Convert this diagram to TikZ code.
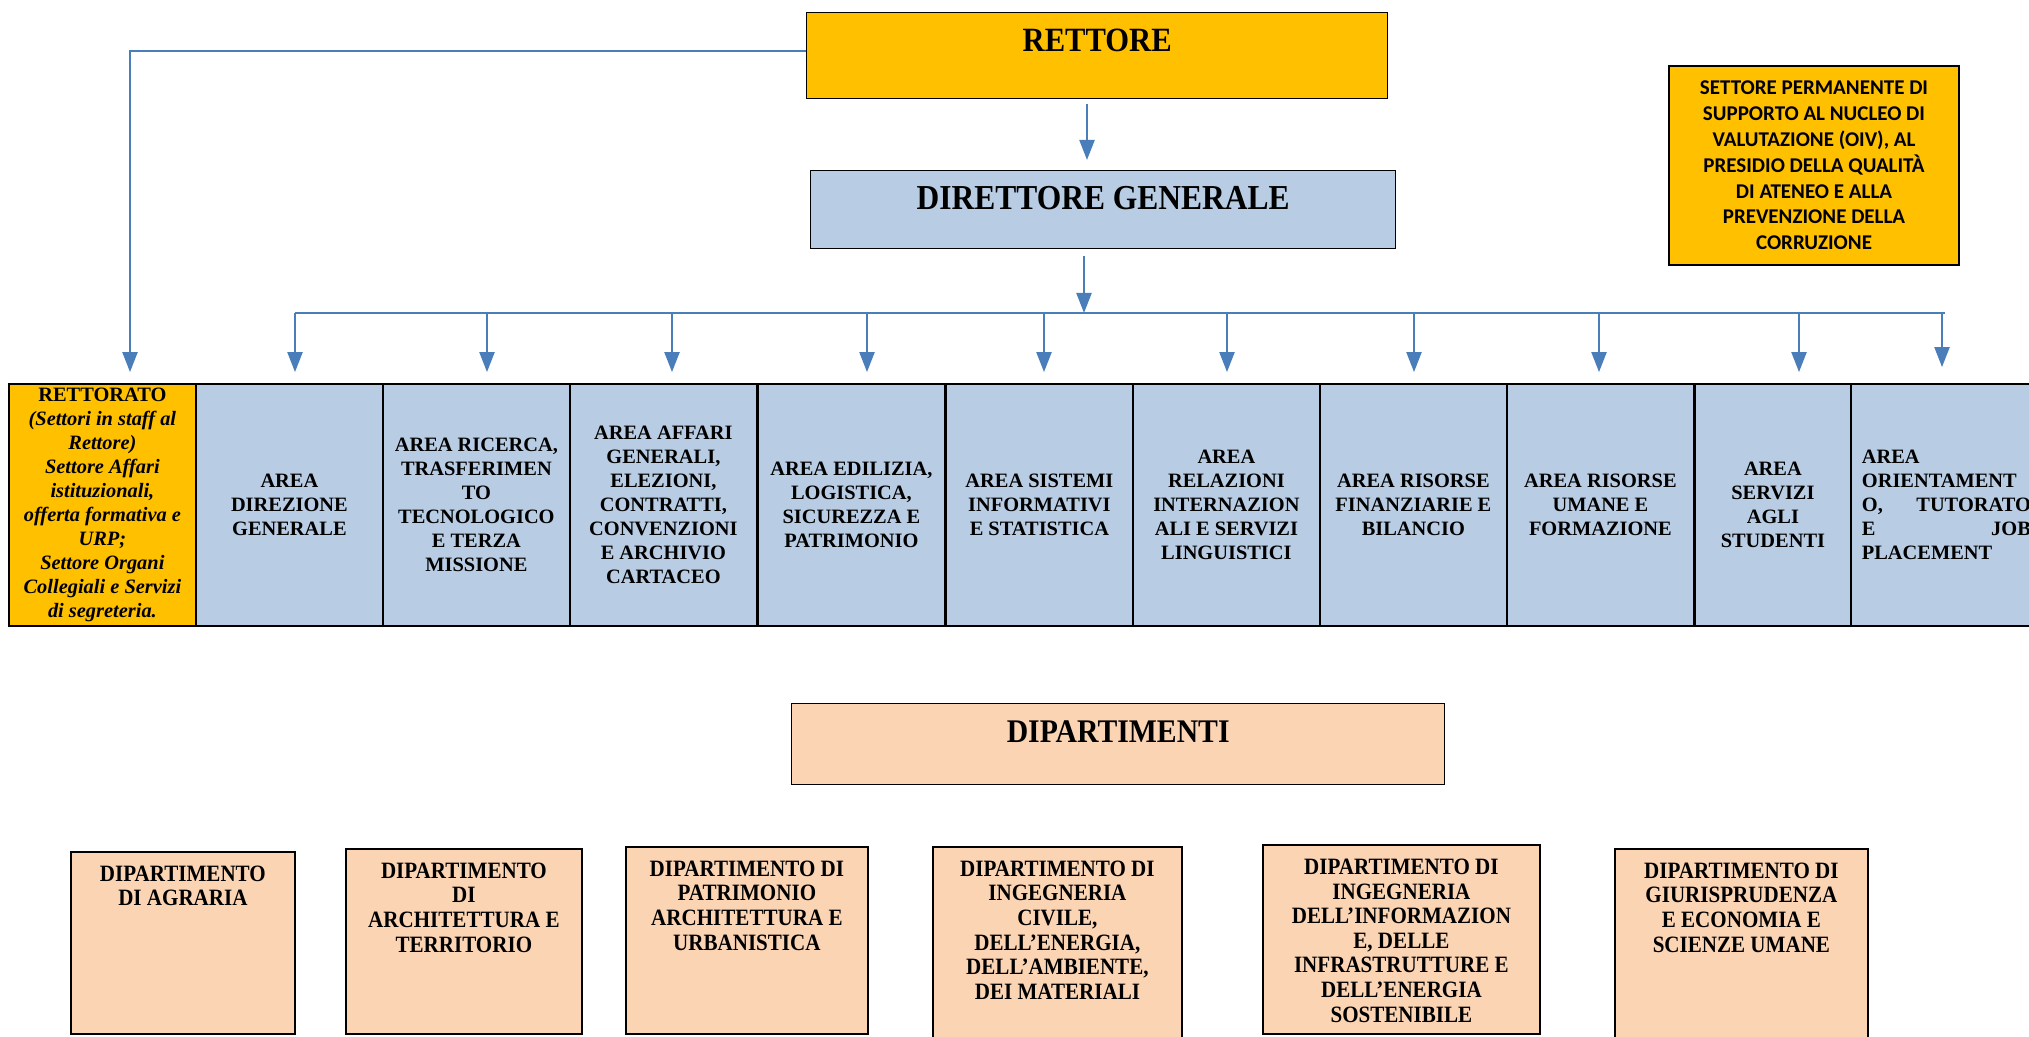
\documentclass[tikz,border=0pt]{standalone}
\usepackage{fontspec}
\setmainfont{Liberation Serif}
\newfontfamily\condfont[FakeStretch=0.9]{Liberation Serif}
\newfontfamily\calfont{Carlito}
\usetikzlibrary{arrows.meta,calc}
\definecolor{gold}{HTML}{FFC000}
\definecolor{paleblue}{HTML}{B8CCE4}
\definecolor{peach}{HTML}{FBD4B4}
\definecolor{linkblue}{HTML}{4A7EBB}
\begin{document}
\begin{tikzpicture}[x=0.5pt,y=-0.5pt,
  conn/.style={draw=linkblue, line width=1.1pt},
  arrowline/.style={conn, -{Triangle[width=7.5pt,length=10pt]}},
  topbox/.style={draw, line width=0.7pt, inner sep=0pt, anchor=north west},
  areabox/.style={draw, line width=0.9pt, fill=paleblue, minimum width=93.5pt, minimum height=121pt, inner xsep=2pt, inner ysep=0pt, anchor=west, align=center, font=\fontsize{10.2}{12}\selectfont\bfseries},
  deptbox/.style={draw, line width=0.9pt, fill=peach, inner sep=0pt, anchor=north west},
  depttext/.style={anchor=north, inner sep=0pt, align=center, font=\condfont\fontsize{11.7}{12.3}\selectfont\bfseries},
]
\useasboundingbox (0,0) rectangle (2029,1037);

% top boxes
\node[topbox, fill=gold, minimum width=290.5pt, text height=19.5pt, text depth=23.5pt,
  font=\condfont\fontsize{17}{20}\selectfont\bfseries] (rett) at (806,12) {RETTORE};
\node[topbox, fill=paleblue, minimum width=292.5pt, text height=19.5pt, text depth=19.5pt,
  font=\condfont\fontsize{17.5}{20}\selectfont\bfseries] (dg) at (810,170) {DIRETTORE GENERALE};
\node[draw, line width=0.7pt, fill=gold, minimum width=145pt, minimum height=99.5pt, inner sep=0pt, align=center,
  font=\calfont\fontsize{10.5}{12.9}\selectfont\bfseries] (settore) at (1814,165.5)
  {SETTORE PERMANENTE DI\\SUPPORTO AL NUCLEO DI\\VALUTAZIONE (OIV), AL\\PRESIDIO DELLA QUALITÀ\\DI ATENEO E ALLA\\PREVENZIONE DELLA\\CORRUZIONE};

% area row
\node[areabox, fill=gold] (rettorato) at (8,505) {RETTORATO\\\textit{(Settori in staff al}\\\textit{Rettore)}\\\textit{Settore Affari}\\\textit{istituzionali,}\\\textit{offerta formativa e}\\\textit{URP;}\\\textit{Settore Organi}\\\textit{Collegiali e Servizi}\\\textit{di segreteria.}};
\node[areabox] (dirgen) at (195,505) {AREA\\DIREZIONE\\GENERALE};
\node[areabox] (ricerca) at (382,505) {AREA RICERCA,\\TRASFERIMEN\\TO\\TECNOLOGICO\\E TERZA\\MISSIONE};
\node[areabox] (affari) at (569,505) {AREA AFFARI\\GENERALI,\\ELEZIONI,\\CONTRATTI,\\CONVENZIONI\\E ARCHIVIO\\CARTACEO};
\node[areabox] (edilizia) at (757,505) {AREA EDILIZIA,\\LOGISTICA,\\SICUREZZA E\\PATRIMONIO};
\node[areabox] (sistemi) at (945,505) {AREA SISTEMI\\INFORMATIVI\\E STATISTICA};
\node[areabox] (relazioni) at (1132,505) {AREA\\RELAZIONI\\INTERNAZION\\ALI E SERVIZI\\LINGUISTICI};
\node[areabox] (finanz) at (1319,505) {AREA RISORSE\\FINANZIARIE E\\BILANCIO};
\node[areabox] (umane) at (1506,505) {AREA RISORSE\\UMANE E\\FORMAZIONE};
\node[areabox, minimum width=78pt] (servizi) at (1694,505) {AREA\\SERVIZI\\AGLI\\STUDENTI};
\node[areabox, align=left, text width=84.5pt, inner xsep=5.5pt, minimum width=0pt] (orient) at (1850,505)
  {AREA\\\makebox[84.5pt][l]{ORIENTAMENT}\\\makebox[84.5pt]{O,\hfill TUTORATO}\\\makebox[84.5pt]{E\hfill JOB}\\PLACEMENT};

% dipartimenti
\node[topbox, fill=peach, minimum width=326.5pt, text height=19.25pt, text depth=21.25pt,
  font=\condfont\fontsize{16.5}{20}\selectfont\bfseries] (dip) at (791,703) {DIPARTIMENTI};

\node[deptbox, minimum width=112pt, minimum height=91pt] (agraria) at (70,851) {};
\node[deptbox, minimum width=118pt, minimum height=92.5pt] (archit) at (345,848) {};
\node[deptbox, minimum width=121pt, minimum height=93.5pt] (patrim) at (625,846) {};
\node[deptbox, minimum width=124.5pt, minimum height=99.5pt] (ingciv) at (932,846) {};
\node[deptbox, minimum width=138.5pt, minimum height=94.5pt] (inginfo) at (1262,844) {};
\node[deptbox, minimum width=126.5pt, minimum height=98.5pt] (giuris) at (1614,848) {};

\node[depttext] (agrariaT) at ([yshift=-7.25pt]agraria.north) {DIPARTIMENTO\\DI AGRARIA};
\node[depttext] (architT) at ([yshift=-7.25pt]archit.north) {DIPARTIMENTO\\DI\\ARCHITETTURA E\\TERRITORIO};
\node[depttext] (patrimT) at ([yshift=-7.25pt]patrim.north) {DIPARTIMENTO DI\\PATRIMONIO\\ARCHITETTURA E\\URBANISTICA};
\node[depttext] (ingcivT) at ([yshift=-7.25pt]ingciv.north) {DIPARTIMENTO DI\\INGEGNERIA\\CIVILE,\\DELL’ENERGIA,\\DELL’AMBIENTE,\\DEI MATERIALI};
\node[depttext] (inginfoT) at ([yshift=-7.25pt]inginfo.north) {DIPARTIMENTO DI\\INGEGNERIA\\DELL’INFORMAZION\\E, DELLE\\INFRASTRUTTURE E\\DELL’ENERGIA\\SOSTENIBILE};
\node[depttext] (giurisT) at ([yshift=-7.25pt]giuris.north) {DIPARTIMENTO DI\\GIURISPRUDENZA\\E ECONOMIA E\\SCIENZE UMANE};

% connectors
\coordinate (ax1) at (1087,0);
\coordinate (ax2) at (1084,0);
\coordinate (busL) at (295,313);
\coordinate (busR) at (1945,313);
\draw[arrowline, shorten >=5.5pt] ([yshift=2.5pt]rett.west) -| (rettorato.north -| 130,0);
\draw[arrowline, shorten <=2.5pt, shorten >=5pt] (rett.south -| ax1) -- (dg.north -| ax1);
\draw[arrowline, shorten <=3.5pt] (dg.south -| ax2) -- (busL -| ax2);
\draw[conn] (busL) -- (busR);
\foreach \n/\x/\s in {dirgen/295/5.5pt, ricerca/487/5.5pt, affari/672/5.5pt, edilizia/867/5.5pt, sistemi/1044/5.5pt, relazioni/1227/5.5pt, finanz/1414/5.5pt, umane/1599/5.5pt, servizi/1799/5.5pt, orient/1942/8pt}
  \draw[arrowline, shorten >=\s] (busL -| \x,0) -- (\n.north -| \x,0);
\end{tikzpicture}
\end{document}
